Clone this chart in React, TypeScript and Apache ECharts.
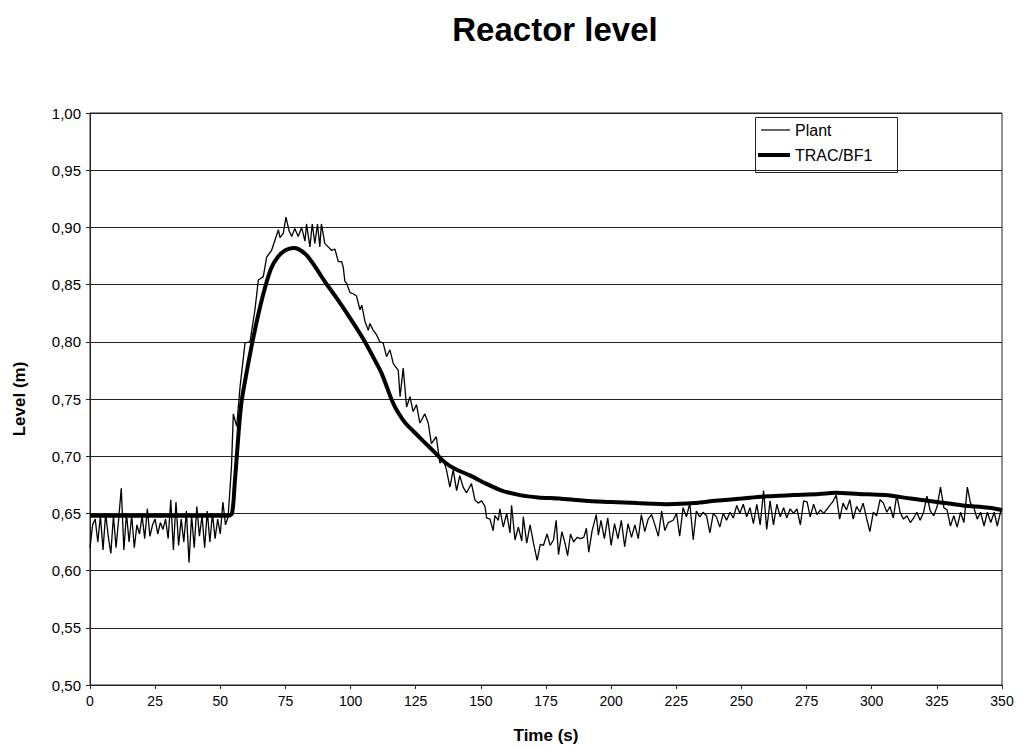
import React, { useEffect, useRef } from "react";
import * as echarts from "echarts";

const xTicks = { min: 0, max: 350, interval: 25 };
const yTicks = { min: 0.5, max: 1.0, interval: 0.05 };

// Plant measurement (thin line), [time s, level m]
const plantSteady: number[][] = [
  [0, 0.62], [1, 0.64], [2, 0.645], [3, 0.625], [4, 0.648], [5, 0.618], [6, 0.65], [7, 0.63], [8, 0.615],
  [9, 0.648], [10, 0.62], [11, 0.645], [12, 0.672], [13, 0.618], [14, 0.65], [15, 0.625], [16, 0.648],
  [17, 0.62], [18, 0.64], [19, 0.632], [20, 0.648], [21, 0.628], [22, 0.654], [23, 0.63], [24, 0.64],
  [25, 0.645], [26, 0.632], [27, 0.642], [28, 0.636], [29, 0.645], [30, 0.628], [31, 0.662], [32, 0.618],
  [33, 0.66], [34, 0.622], [35, 0.645], [36, 0.625], [37, 0.652], [38, 0.607], [39, 0.648], [40, 0.62],
  [41, 0.656], [42, 0.63], [43, 0.648], [44, 0.62], [45, 0.652], [46, 0.625], [47, 0.65], [48, 0.628],
  [49, 0.645], [50, 0.632], [51, 0.66], [52, 0.64], [53, 0.647],
];
const plantRise: number[][] = [
  [54.3, 0.691], [55, 0.737], [56.3, 0.726], [57.6, 0.761], [59.5, 0.799], [61.4, 0.8], [63.3, 0.828],
  [64.6, 0.854], [66.5, 0.857], [67.8, 0.874], [69.7, 0.88], [71, 0.889], [72.3, 0.898], [72.9, 0.891],
  [74.2, 0.895], [75.2, 0.909], [76.4, 0.897], [77.4, 0.892], [78.6, 0.899], [79.9, 0.892], [81.2, 0.9],
  [82.5, 0.888], [83.1, 0.903], [84.4, 0.883], [85.3, 0.903], [86.3, 0.886], [87.3, 0.903], [88.2, 0.883],
  [88.8, 0.903], [90.1, 0.886], [91.4, 0.883], [92.7, 0.88], [94, 0.881], [95.3, 0.87], [96.6, 0.87],
  [97.2, 0.865], [97.8, 0.853], [98.5, 0.851], [99.8, 0.843], [101, 0.842],
];
const plantFall: number[][] = [
  [102.3, 0.84], [103.6, 0.828], [104.3, 0.832], [105.5, 0.818], [106.8, 0.81], [107.4, 0.816],
  [108.7, 0.81], [110, 0.806], [111.2, 0.8], [112.5, 0.799], [113.8, 0.787], [115.1, 0.793],
  [116.4, 0.781], [118.3, 0.775], [119, 0.752], [120.2, 0.777], [121.5, 0.743], [122.8, 0.752],
  [124, 0.739], [125.3, 0.745], [126.6, 0.729], [128.5, 0.737], [129.8, 0.729], [131, 0.711],
  [132.9, 0.717], [134.3, 0.694], [135.6, 0.697], [136.8, 0.688], [138.1, 0.673], [139.4, 0.688],
  [140.7, 0.67], [141.9, 0.683], [143.2, 0.673], [144.5, 0.668], [146.4, 0.676], [147.7, 0.662],
  [149, 0.659], [150.3, 0.661], [151.6, 0.656],
];
const plantLow: number[][] = [
  [152.2, 0.646], [153.5, 0.645], [154.7, 0.635], [155.4, 0.648], [156.7, 0.644], [157.3, 0.654],
  [158.6, 0.638], [159.9, 0.65], [161.2, 0.633], [161.8, 0.657], [163.1, 0.627], [164.4, 0.638],
  [165.7, 0.626], [166.3, 0.647], [167.6, 0.624], [168.9, 0.64], [170.2, 0.624], [171.6, 0.609],
  [172.8, 0.623], [174, 0.622], [175.4, 0.632], [176.6, 0.622], [177.9, 0.627], [178.9, 0.644],
  [179.8, 0.614], [181.1, 0.634], [182.4, 0.623], [183.3, 0.613], [184.4, 0.632], [185.6, 0.625],
  [186.9, 0.629], [188.2, 0.628], [189.5, 0.629], [190.5, 0.637], [191.4, 0.616], [192.7, 0.635],
  [194.3, 0.649], [195.1, 0.631], [196.1, 0.644], [197.4, 0.628], [198.7, 0.646], [200, 0.622],
  [201.3, 0.641], [202.6, 0.628], [203.9, 0.644], [205.2, 0.621], [206.5, 0.641], [207.8, 0.629],
  [209.1, 0.64], [210.4, 0.628], [211.6, 0.649], [212.9, 0.634], [214.2, 0.645], [215.5, 0.649],
  [216.8, 0.64], [218.1, 0.63],
];
const plantMid: number[][] = [
  [219.4, 0.652], [220.6, 0.635], [221.9, 0.642], [223.8, 0.644], [225.1, 0.65], [226.3, 0.63],
  [227.6, 0.655], [228.9, 0.647], [230.2, 0.659], [231.5, 0.627], [232.7, 0.652], [234, 0.647],
  [235.3, 0.651], [236.6, 0.648], [237.9, 0.633], [239.2, 0.65], [240.4, 0.647], [241.7, 0.638],
  [243, 0.65], [244.3, 0.644], [245.6, 0.651], [246.9, 0.646], [248.2, 0.657], [249.4, 0.65],
  [250.7, 0.658], [252, 0.647], [253.3, 0.655], [254.6, 0.641], [255.9, 0.658], [257.2, 0.64],
  [258.5, 0.67], [259.7, 0.636], [261, 0.661], [262.3, 0.64], [263.6, 0.658], [264.9, 0.647],
  [266.2, 0.655], [267.4, 0.646], [268.7, 0.654], [270, 0.65], [271.3, 0.654], [272.6, 0.64],
  [273.9, 0.661], [275.2, 0.66], [276.4, 0.647], [277.7, 0.658], [279, 0.649], [280.3, 0.653],
  [281.6, 0.65], [282.9, 0.654],
];
const plantEnd: number[][] = [
  [285, 0.66], [286.4, 0.666], [287.7, 0.645], [289, 0.659], [290.3, 0.653], [291.6, 0.662],
  [292.9, 0.645], [294.2, 0.656], [295.5, 0.651], [296.7, 0.659], [298, 0.646], [299.3, 0.634],
  [300.6, 0.651], [301.9, 0.648], [303.2, 0.662], [304.5, 0.659], [305.8, 0.651], [307, 0.656],
  [308.3, 0.646], [309.6, 0.666], [310.9, 0.651], [312.2, 0.645], [313.5, 0.648], [314.8, 0.642],
  [316.1, 0.646], [317.3, 0.651], [318.6, 0.644], [319.9, 0.651], [321.2, 0.665], [322.5, 0.652],
  [323.8, 0.648], [325.1, 0.656], [326.4, 0.673], [327.7, 0.655], [328.9, 0.653], [330.2, 0.639],
  [331.5, 0.648], [332.8, 0.638], [334.1, 0.651], [335.4, 0.642], [336.7, 0.673], [337.9, 0.659],
  [339.2, 0.655], [340.5, 0.645], [341.8, 0.651], [343.1, 0.639], [344.4, 0.651], [345.7, 0.642],
  [347, 0.651], [348.2, 0.639], [349.5, 0.652],
];

// TRAC/BF1 simulation (thick line)
const tracData: number[][] = [
  [0, 0.648], [53, 0.648], [54.5, 0.65], [55.5, 0.675], [56.5, 0.705], [58, 0.745], [60, 0.772],
  [62, 0.796], [64.5, 0.823], [67, 0.846], [69.5, 0.864], [72, 0.874], [75, 0.88], [78, 0.882],
  [80, 0.881], [83, 0.876], [86, 0.867], [90, 0.853], [95, 0.837], [100, 0.82], [105, 0.802],
  [110, 0.781], [112, 0.772], [114, 0.76], [116, 0.748], [118, 0.739], [121, 0.729], [124, 0.722],
  [128, 0.713], [132, 0.704], [136, 0.695], [140, 0.689], [146, 0.683], [152, 0.676], [158, 0.67],
  [165, 0.666], [172, 0.664], [180, 0.663], [190, 0.661], [200, 0.66], [210, 0.659], [222, 0.658],
  [232, 0.659], [240, 0.661], [250, 0.663], [260, 0.665], [270, 0.666], [280, 0.667], [286, 0.668],
  [295, 0.667], [305, 0.666], [315, 0.663], [325, 0.66], [335, 0.657], [345, 0.655], [350, 0.653],
];

const seriesNames = ["Plant", "TRAC/BF1"];
const FONT = "'Liberation Sans', Arial, sans-serif";

export default function App() {
  const ref = useRef<HTMLDivElement>(null);
  useEffect(() => {
    document.body.style.margin = "0";
    if (!ref.current) return;
    const chart = echarts.init(ref.current, null, { renderer: "svg" });
    const plantData = [
      ...plantSteady, ...plantRise, ...plantFall, ...plantLow, ...plantMid, ...plantEnd,
    ];
    const lgX = 755;
    const lgY = 117;
    chart.setOption({
      animation: false,
      backgroundColor: "#fff",
      textStyle: { fontFamily: FONT },
      graphic: [
        {
          type: "text",
          x: 555,
          y: 29,
          style: {
            text: "Reactor level",
            fontSize: 33,
            fontWeight: "bold",
            fontFamily: FONT,
            fill: "#000",
            align: "center",
            verticalAlign: "middle",
          },
        },
        {
          type: "group",
          z: 100,
          children: [
            {
              type: "rect",
              shape: { x: lgX + 0.5, y: lgY + 0.5, width: 142, height: 55 },
              style: { fill: "#fff", stroke: "#222", lineWidth: 1 },
            },
            {
              type: "line",
              shape: { x1: lgX + 6, y1: lgY + 13, x2: lgX + 35, y2: lgY + 13 },
              style: { stroke: "#000", lineWidth: 1.2 },
            },
            {
              type: "text",
              x: lgX + 40,
              y: lgY + 13,
              style: {
                text: seriesNames[0],
                fontSize: 16,
                fontFamily: FONT,
                fill: "#000",
                verticalAlign: "middle",
              },
            },
            {
              type: "line",
              shape: { x1: lgX + 3, y1: lgY + 38, x2: lgX + 35, y2: lgY + 38 },
              style: { stroke: "#000", lineWidth: 4 },
            },
            {
              type: "text",
              x: lgX + 40,
              y: lgY + 38,
              style: {
                text: seriesNames[1],
                fontSize: 16,
                fontFamily: FONT,
                fill: "#000",
                verticalAlign: "middle",
              },
            },
          ],
        },
      ],
      grid: {
        left: 90,
        right: 16,
        top: 113,
        bottom: 64,
        show: true,
        borderColor: "#222",
        borderWidth: 1,
        containLabel: false,
      },
      xAxis: {
        type: "value",
        min: xTicks.min,
        max: xTicks.max,
        interval: xTicks.interval,
        name: "Time (s)",
        nameLocation: "middle",
        nameGap: 42,
        nameTextStyle: { fontSize: 17, fontWeight: "bold", color: "#000", fontFamily: FONT },
        axisLine: { show: true, lineStyle: { color: "#222", width: 1 } },
        axisTick: { show: true, length: 4, lineStyle: { color: "#222" } },
        axisLabel: { fontSize: 14, color: "#000", margin: 9, fontFamily: FONT },
        splitLine: { show: false },
      },
      yAxis: {
        type: "value",
        min: yTicks.min,
        max: yTicks.max,
        interval: yTicks.interval,
        name: "Level (m)",
        nameLocation: "middle",
        nameGap: 62,
        nameTextStyle: { fontSize: 17, fontWeight: "bold", color: "#000", fontFamily: FONT },
        axisLine: { show: true, lineStyle: { color: "#222", width: 1 } },
        axisTick: { show: true, length: 4, lineStyle: { color: "#222" } },
        axisLabel: {
          fontSize: 15,
          color: "#000",
          margin: 9,
          fontFamily: FONT,
          formatter: (v: number) => v.toFixed(2).replace(".", ","),
        },
        splitLine: { show: true, lineStyle: { color: "#222", width: 1 } },
      },
      series: [
        {
          name: seriesNames[0],
          type: "line",
          data: plantData,
          symbol: "none",
          lineStyle: { color: "#000", width: 1.3 },
          z: 2,
        },
        {
          name: seriesNames[1],
          type: "line",
          data: tracData,
          symbol: "none",
          smooth: 0.3,
          lineStyle: { color: "#000", width: 4 },
          z: 3,
        },
      ],
    });
    return () => chart.dispose();
  }, []);
  return <div ref={ref} style={{ width: 1018, height: 749 }} />;
}
